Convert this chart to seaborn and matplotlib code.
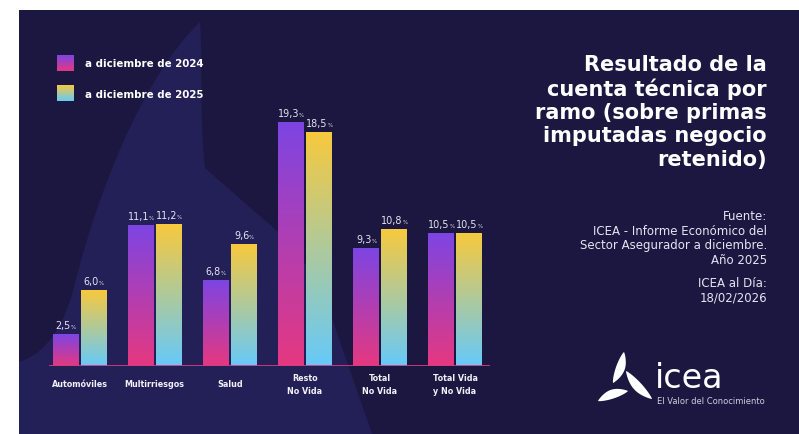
import numpy as np
import pandas as pd
import matplotlib
matplotlib.use("Agg")
import matplotlib.pyplot as plt
import seaborn as sns
from matplotlib.patches import Rectangle, PathPatch, Polygon
from matplotlib.path import Path

# ---- data -------------------------------------------------------------
ramos = ["Automóviles", "Multirriesgos", "Salud", "Resto\nNo Vida",
         "Total\nNo Vida", "Total Vida\ny No Vida"]
dic_2024 = [2.5, 11.1, 6.8, 19.3, 9.3, 10.5]
dic_2025 = [6.0, 11.2, 9.6, 18.5, 10.8, 10.5]
periodos = ["a diciembre de 2024", "a diciembre de 2025"]

titulo = "Resultado de la\ncuenta técnica por\nramo (sobre primas\nimputadas negocio\nretenido)"
fuente = "Fuente:\nICEA - Informe Económico del\nSector Asegurador a diciembre.\nAño 2025"
fecha = "ICEA al Día:\n18/02/2026"
marca = "icea"
lema = "El Valor del Conocimiento"

# ---- style ------------------------------------------------------------
W, H = 799, 434
BG = "#1b1741"
SHAPE = "#232057"
TXT = "#e6e4f1"
GRAD = {
    periodos[0]: ((0.49, 0.27, 0.89), (0.90, 0.22, 0.50)),   # purple -> pink
    periodos[1]: ((0.97, 0.79, 0.24), (0.40, 0.79, 0.98)),   # yellow -> light blue
}

sns.set_theme(style="white")
plt.rcParams["font.family"] = ["DejaVu Sans"]


def gradient(top, bottom, n=256):
    t = np.linspace(0, 1, n)[:, None]
    top, bottom = np.array(top), np.array(bottom)
    return (top * (1 - t) + bottom * t)[:, None, :]


fig = plt.figure(figsize=(W / 100, H / 100), dpi=100, facecolor="white")

# background layer in pixel coordinates (y grows downwards)
bg = fig.add_axes([0, 0, 1, 1], zorder=0)
bg.set_xlim(0, W)
bg.set_ylim(H, 0)
bg.axis("off")
bg.add_patch(Rectangle((19, 10), W - 19, H - 10, color=BG, lw=0, zorder=0))

# large watermark blade behind the bars
verts = [(200, 22),
         (140, 80), (95, 200), (72, 295),
         (58, 340), (38, 356), (19, 362),
         (19, 434), (372, 434), (336, 330),
         (322, 285), (300, 248), (262, 218),
         (205, 168),
         (199, 120), (203, 60), (200, 22),
         (200, 22)]
codes = ([Path.MOVETO] + [Path.CURVE4] * 6 + [Path.LINETO] * 3 +
         [Path.CURVE4] * 3 + [Path.LINETO] + [Path.CURVE4] * 3 + [Path.CLOSEPOLY])
bg.add_patch(PathPatch(Path(verts, codes), facecolor=SHAPE, lw=0, zorder=1))


def leaf(p0, p1, wmax, bend=2.0, n=40):
    """Pointed leaf outline running from p0 to p1."""
    p0, p1 = np.array(p0, float), np.array(p1, float)
    t = np.linspace(0, 1, n)
    d = p1 - p0
    length = np.hypot(*d)
    d = d / length
    nrm = np.array([-d[1], d[0]])
    half = wmax / 2 * np.sin(np.pi * t) ** 0.8
    off = bend * np.sin(np.pi * t)
    c = p0[None, :] + (t * length)[:, None] * d[None, :] + off[:, None] * nrm[None, :]
    return np.vstack([c + half[:, None] * nrm, (c - half[:, None] * nrm)[::-1]])


for p0, p1 in (((613, 383), (624, 352)),
               ((628, 391), (598, 401)),
               ((626, 371), (652, 399))):
    bg.add_patch(Polygon(leaf(p0, p1, 9), closed=True, facecolor="white",
                         lw=0, zorder=2))

bg.text(655, 388, marca, fontsize=24, color="white", ha="left", va="baseline")
bg.text(657, 401, lema, fontsize=6.0, color="#cfcde0", ha="left", va="center")

# title and source block
bg.text(767, 55, titulo, fontsize=15, fontweight="bold", color="white",
        ha="right", va="top", linespacing=1.2)
bg.text(767, 210, fuente, fontsize=8.5, color=TXT,
        ha="right", va="top", linespacing=1.16)
bg.text(767, 277, fecha, fontsize=8.5, color=TXT,
        ha="right", va="top", linespacing=1.16)

# legend
for (per, (top, bot)), yc in zip(GRAD.items(), (63, 93.5)):
    bg.imshow(gradient(top, bot), extent=(57, 74, yc + 8, yc - 8),
              aspect="auto", interpolation="bilinear", zorder=3)
    bg.text(85, yc + 1, per, fontsize=7.4, fontweight="bold", color="white",
            ha="left", va="center")
bg.set_xlim(0, W)
bg.set_ylim(H, 0)

# ---- bars -------------------------------------------------------------
df = pd.DataFrame({
    "ramo": ramos * 2,
    "valor": dic_2024 + dic_2025,
    "periodo": [periodos[0]] * len(ramos) + [periodos[1]] * len(ramos),
})

ax = fig.add_axes([49 / W, (H - 366) / H, (490 - 49) / W, (366 - 88.1) / H], zorder=1)
ax.set_facecolor("none")
sns.barplot(data=df, x="ramo", y="valor", hue="periodo", hue_order=periodos,
            order=ramos, width=0.75, gap=0.1, legend=False, ax=ax)

for cont, per, vals in zip(ax.containers, periodos, (dic_2024, dic_2025)):
    top, bot = GRAD[per]
    for bar, v in zip(cont, vals):
        x0, w, h = bar.get_x(), bar.get_width(), bar.get_height()
        bar.set_visible(False)
        ax.imshow(gradient(top, bot), extent=(x0, x0 + w, 0, h), aspect="auto",
                  interpolation="bilinear", zorder=2)
        num = ax.annotate(f"{v:.1f}".replace(".", ","), xy=(x0 + w / 2, h),
                          xytext=(-1.6, 2.5), textcoords="offset points",
                          ha="center", va="bottom", fontsize=6.9,
                          color=TXT, zorder=3)
        ax.annotate("%", xy=(1.0, 0.1), xycoords=num, ha="left", va="bottom",
                    fontsize=3.9, color=TXT, zorder=3)

ax.axhline(0, color="#d8387f", lw=1.3, zorder=3)
ax.set_xlim(-0.406, 5.466)
ax.set_ylim(0, 22)
ax.set_xticks(range(len(ramos)), labels=ramos, fontweight="bold",
              va="center", linespacing=1.5)
ax.tick_params(axis="x", length=0, pad=13.5, labelsize=5.8, labelcolor="#f2f1f8")
ax.set_yticks([])
ax.set_xlabel("")
ax.set_ylabel("")
sns.despine(ax=ax, left=True, bottom=True)

fig.savefig("out.png", dpi=100, facecolor="white")
